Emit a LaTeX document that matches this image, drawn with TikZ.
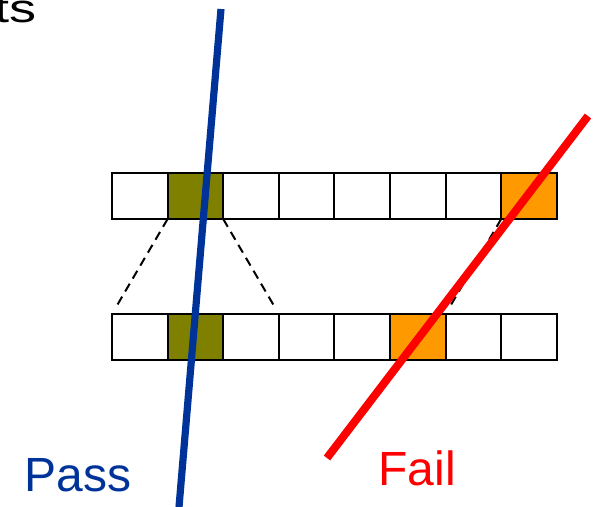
\documentclass[tikz,border=0pt]{standalone}
\usepackage{fontspec}
\setmainfont{Liberation Sans}
\definecolor{cellolive}{HTML}{808000}
\definecolor{cellorange}{HTML}{FF9900}
\definecolor{passblue}{HTML}{003399}
\definecolor{failred}{HTML}{FF0000}
\begin{document}
\begin{tikzpicture}[x=0.5pt, y=-0.5pt,
  cell/.style={draw, line width=1pt, minimum width=27.8pt, minimum height=23pt, inner sep=0pt, outer sep=0pt, fill=white},
  zoomline/.style={line width=1pt, dash pattern=on 4.5pt off 3pt, shorten >=3.5pt},
  cut/.style={line width=3.6pt},
  lbl/.style={inner sep=0pt, font=\fontsize{24}{28}\selectfont}]
  \useasboundingbox (0,0) rectangle (596,507);
  % top row: x = 112 + 55.6*(i+1/2), y = 196
  \node[cell] (t0) at (139.8,196) {}; \node[cell, fill=cellolive] (t1) at (195.4,196) {};
  \node[cell] (t2) at (251.0,196) {}; \node[cell] (t3) at (306.6,196) {};
  \node[cell] (t4) at (362.2,196) {}; \node[cell] (t5) at (417.8,196) {};
  \node[cell] (t6) at (473.4,196) {}; \node[cell, fill=cellorange] (t7) at (529.0,196) {};
  % bottom row, y = 337
  \node[cell] (b0) at (139.8,337) {}; \node[cell, fill=cellolive] (b1) at (195.4,337) {};
  \node[cell] (b2) at (251.0,337) {}; \node[cell] (b3) at (306.6,337) {};
  \node[cell] (b4) at (362.2,337) {}; \node[cell, fill=cellorange] (b5) at (417.8,337) {};
  \node[cell] (b6) at (473.4,337) {}; \node[cell] (b7) at (529.0,337) {};
  % dashed links between the rows
  \draw[zoomline] (t1.south west) -- (b0.north west);
  \draw[zoomline] (t1.south east) -- (b2.north east);
  \draw[zoomline] (t7.south west) -- (b5.north east);
  % the two cutting lines
  \coordinate (passtop) at (221,9); \coordinate (passend) at (179,507);
  \coordinate (failtop) at (588,116); \coordinate (failend) at (327,458);
  \draw[cut, passblue] (passtop) -- (passend);
  \draw[cut, failred, line width=4pt] (failtop) -- (failend);
  \node[lbl, text=passblue, anchor=base west] (pass) at (24,492) {Pass};
  \node[lbl, text=failred, anchor=base west] (fail) at (378,486) {Fail};
  \node[inner sep=0pt, anchor=base east, xscale=1.35, font=\fontsize{20}{24}\selectfont] (ts) at (37,23) {ts};
\end{tikzpicture}
\end{document}
